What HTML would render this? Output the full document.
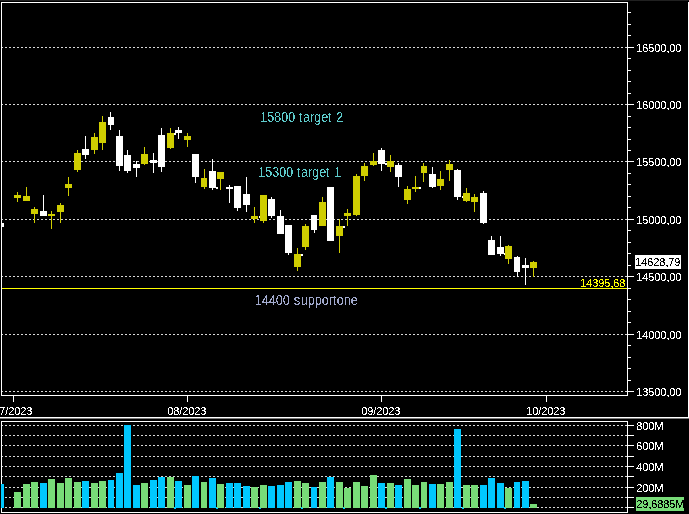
<!DOCTYPE html>
<html><head><meta charset="utf-8"><title>Chart</title>
<style>
html,body{margin:0;padding:0;background:#000;}
body{width:689px;height:514px;overflow:hidden;position:relative;font-family:"Liberation Sans",sans-serif;}
svg{position:absolute;left:0;top:0;display:block;}
text{font-family:"Liberation Sans",sans-serif;}
.ax{font-size:11px;fill:#fff;}
.an{font-size:13px;}
</style></head><body>
<svg width="689" height="514" viewBox="0 0 689 514" shape-rendering="crispEdges">
<defs><pattern id="dot" x="1" y="0" width="4" height="1" patternUnits="userSpaceOnUse"><rect x="0" y="0" width="2" height="1" fill="#d8d8d8"/></pattern></defs>
<rect x="0" y="0" width="689" height="514" fill="#000"/>
<rect x="0" y="0" width="689" height="1" fill="#202020"/>
<rect x="2" y="47" width="625" height="1" fill="url(#dot)"/>
<rect x="2" y="104" width="625" height="1" fill="url(#dot)"/>
<rect x="2" y="161" width="625" height="1" fill="url(#dot)"/>
<rect x="2" y="219" width="625" height="1" fill="url(#dot)"/>
<rect x="2" y="276" width="625" height="1" fill="url(#dot)"/>
<rect x="2" y="334" width="625" height="1" fill="url(#dot)"/>
<rect x="2" y="391" width="625" height="1" fill="url(#dot)"/>
<rect x="2" y="425" width="625" height="1" fill="url(#dot)"/>
<rect x="2" y="435" width="625" height="1" fill="url(#dot)"/>
<rect x="2" y="445" width="625" height="1" fill="url(#dot)"/>
<rect x="2" y="456" width="625" height="1" fill="url(#dot)"/>
<rect x="2" y="466" width="625" height="1" fill="url(#dot)"/>
<rect x="2" y="476" width="625" height="1" fill="url(#dot)"/>
<rect x="2" y="487" width="625" height="1" fill="url(#dot)"/>
<rect x="2" y="497" width="625" height="1" fill="url(#dot)"/>
<rect x="2" y="507" width="625" height="1" fill="url(#dot)"/>
<rect x="1" y="2" width="627" height="1" fill="#ffffff"/>
<rect x="1" y="2" width="1" height="394" fill="#ffffff"/>
<rect x="1" y="395" width="627" height="1" fill="#ffffff"/>
<rect x="627" y="2" width="1" height="394" fill="#ffffff"/>
<rect x="688" y="2" width="1" height="416" fill="#ffffff"/>
<rect x="0" y="417" width="689" height="1" fill="#ffffff"/>
<rect x="0" y="418" width="689" height="1" fill="#7a7a7a"/>
<rect x="1" y="421" width="627" height="1" fill="#ffffff"/>
<rect x="1" y="421" width="1" height="92" fill="#ffffff"/>
<rect x="627" y="421" width="1" height="92" fill="#ffffff"/>
<rect x="1" y="512" width="627" height="1" fill="#ffffff"/>
<rect x="628" y="12" width="3" height="1" fill="#ffffff"/>
<rect x="628" y="24" width="3" height="1" fill="#ffffff"/>
<rect x="628" y="35" width="3" height="1" fill="#ffffff"/>
<rect x="628" y="58" width="3" height="1" fill="#ffffff"/>
<rect x="628" y="70" width="3" height="1" fill="#ffffff"/>
<rect x="628" y="81" width="3" height="1" fill="#ffffff"/>
<rect x="628" y="93" width="3" height="1" fill="#ffffff"/>
<rect x="628" y="116" width="3" height="1" fill="#ffffff"/>
<rect x="628" y="127" width="3" height="1" fill="#ffffff"/>
<rect x="628" y="139" width="3" height="1" fill="#ffffff"/>
<rect x="628" y="150" width="3" height="1" fill="#ffffff"/>
<rect x="628" y="173" width="3" height="1" fill="#ffffff"/>
<rect x="628" y="184" width="3" height="1" fill="#ffffff"/>
<rect x="628" y="196" width="3" height="1" fill="#ffffff"/>
<rect x="628" y="207" width="3" height="1" fill="#ffffff"/>
<rect x="628" y="230" width="3" height="1" fill="#ffffff"/>
<rect x="628" y="242" width="3" height="1" fill="#ffffff"/>
<rect x="628" y="253" width="3" height="1" fill="#ffffff"/>
<rect x="628" y="265" width="3" height="1" fill="#ffffff"/>
<rect x="628" y="288" width="3" height="1" fill="#ffffff"/>
<rect x="628" y="299" width="3" height="1" fill="#ffffff"/>
<rect x="628" y="311" width="3" height="1" fill="#ffffff"/>
<rect x="628" y="322" width="3" height="1" fill="#ffffff"/>
<rect x="628" y="345" width="3" height="1" fill="#ffffff"/>
<rect x="628" y="357" width="3" height="1" fill="#ffffff"/>
<rect x="628" y="368" width="3" height="1" fill="#ffffff"/>
<rect x="628" y="380" width="3" height="1" fill="#ffffff"/>
<rect x="628" y="47" width="6" height="1" fill="#ffffff"/>
<rect x="628" y="104" width="6" height="1" fill="#ffffff"/>
<rect x="628" y="161" width="6" height="1" fill="#ffffff"/>
<rect x="628" y="219" width="6" height="1" fill="#ffffff"/>
<rect x="628" y="276" width="6" height="1" fill="#ffffff"/>
<rect x="628" y="334" width="6" height="1" fill="#ffffff"/>
<rect x="628" y="391" width="6" height="1" fill="#ffffff"/>
<rect x="628" y="425" width="6" height="1" fill="#ffffff"/>
<rect x="628" y="435" width="6" height="1" fill="#ffffff"/>
<rect x="628" y="445" width="6" height="1" fill="#ffffff"/>
<rect x="628" y="456" width="6" height="1" fill="#ffffff"/>
<rect x="628" y="466" width="6" height="1" fill="#ffffff"/>
<rect x="628" y="476" width="6" height="1" fill="#ffffff"/>
<rect x="628" y="487" width="6" height="1" fill="#ffffff"/>
<rect x="628" y="497" width="6" height="1" fill="#ffffff"/>
<rect x="628" y="507" width="6" height="1" fill="#ffffff"/>
<rect x="13" y="396" width="1" height="6" fill="#ffffff"/>
<rect x="187" y="396" width="1" height="6" fill="#ffffff"/>
<rect x="381" y="396" width="1" height="6" fill="#ffffff"/>
<rect x="546" y="396" width="1" height="6" fill="#ffffff"/>
<rect x="2" y="288" width="625" height="1" fill="#ffff00"/>
<rect x="174" y="507" width="2" height="2" fill="#00c8ff"/>
<rect x="174" y="133" width="2" height="2" fill="#ffffff"/>
<rect x="216" y="507" width="2" height="2" fill="#00c8ff"/>
<rect x="216" y="187" width="2" height="2" fill="#ffffff"/>
<rect x="259" y="507" width="2" height="2" fill="#00c8ff"/>
<rect x="259" y="216" width="2" height="2" fill="#ffffff"/>
<rect x="301" y="507" width="2" height="2" fill="#00c8ff"/>
<rect x="301" y="254" width="2" height="2" fill="#ffffff"/>
<rect x="343" y="507" width="2" height="2" fill="#00c8ff"/>
<rect x="343" y="226" width="2" height="2" fill="#ffffff"/>
<rect x="385" y="507" width="2" height="2" fill="#00c8ff"/>
<rect x="385" y="163" width="2" height="2" fill="#ffffff"/>
<rect x="419" y="507" width="2" height="2" fill="#00c8ff"/>
<rect x="419" y="187" width="2" height="2" fill="#ffffff"/>
<rect x="462" y="507" width="2" height="2" fill="#00c8ff"/>
<rect x="462" y="196" width="2" height="2" fill="#ffffff"/>
<rect x="504" y="507" width="2" height="2" fill="#00c8ff"/>
<rect x="504" y="253" width="2" height="2" fill="#ffffff"/>
<rect x="1" y="484" width="3" height="24" fill="#00c8ff"/>
<rect x="14" y="492" width="7" height="16" fill="#78dc78"/>
<rect x="23" y="484" width="7" height="24" fill="#78dc78"/>
<rect x="31" y="482" width="7" height="26" fill="#78dc78"/>
<rect x="40" y="483" width="7" height="25" fill="#00c8ff"/>
<rect x="48" y="479" width="7" height="29" fill="#78dc78"/>
<rect x="57" y="483" width="7" height="25" fill="#78dc78"/>
<rect x="65" y="478" width="7" height="30" fill="#78dc78"/>
<rect x="74" y="482" width="7" height="26" fill="#78dc78"/>
<rect x="82" y="481" width="7" height="27" fill="#00c8ff"/>
<rect x="91" y="483" width="7" height="25" fill="#78dc78"/>
<rect x="99" y="481" width="7" height="27" fill="#78dc78"/>
<rect x="108" y="480" width="6" height="28" fill="#00c8ff"/>
<rect x="116" y="473" width="7" height="35" fill="#00c8ff"/>
<rect x="124" y="425" width="7" height="83" fill="#00c8ff"/>
<rect x="133" y="485" width="7" height="23" fill="#00c8ff"/>
<rect x="141" y="483" width="7" height="25" fill="#78dc78"/>
<rect x="150" y="480" width="7" height="28" fill="#00c8ff"/>
<rect x="158" y="477" width="7" height="31" fill="#00c8ff"/>
<rect x="167" y="477" width="7" height="31" fill="#78dc78"/>
<rect x="175" y="481" width="7" height="27" fill="#00c8ff"/>
<rect x="184" y="485" width="7" height="23" fill="#78dc78"/>
<rect x="192" y="476" width="7" height="32" fill="#00c8ff"/>
<rect x="201" y="482" width="6" height="26" fill="#78dc78"/>
<rect x="209" y="478" width="7" height="30" fill="#00c8ff"/>
<rect x="217" y="484" width="7" height="24" fill="#78dc78"/>
<rect x="226" y="483" width="7" height="25" fill="#00c8ff"/>
<rect x="234" y="483" width="7" height="25" fill="#00c8ff"/>
<rect x="243" y="486" width="7" height="22" fill="#00c8ff"/>
<rect x="251" y="487" width="7" height="21" fill="#78dc78"/>
<rect x="260" y="485" width="7" height="23" fill="#78dc78"/>
<rect x="268" y="486" width="7" height="22" fill="#00c8ff"/>
<rect x="277" y="485" width="7" height="23" fill="#00c8ff"/>
<rect x="285" y="482" width="7" height="26" fill="#00c8ff"/>
<rect x="294" y="481" width="7" height="27" fill="#78dc78"/>
<rect x="302" y="483" width="7" height="25" fill="#78dc78"/>
<rect x="311" y="487" width="6" height="21" fill="#00c8ff"/>
<rect x="319" y="482" width="7" height="26" fill="#78dc78"/>
<rect x="327" y="477" width="7" height="31" fill="#00c8ff"/>
<rect x="336" y="482" width="7" height="26" fill="#78dc78"/>
<rect x="344" y="488" width="7" height="20" fill="#78dc78"/>
<rect x="353" y="482" width="7" height="26" fill="#78dc78"/>
<rect x="361" y="486" width="7" height="22" fill="#78dc78"/>
<rect x="370" y="475" width="7" height="33" fill="#78dc78"/>
<rect x="378" y="483" width="7" height="25" fill="#00c8ff"/>
<rect x="387" y="483" width="7" height="25" fill="#78dc78"/>
<rect x="395" y="485" width="7" height="23" fill="#00c8ff"/>
<rect x="404" y="479" width="7" height="29" fill="#78dc78"/>
<rect x="412" y="485" width="7" height="23" fill="#78dc78"/>
<rect x="421" y="482" width="6" height="26" fill="#78dc78"/>
<rect x="429" y="484" width="7" height="24" fill="#00c8ff"/>
<rect x="437" y="484" width="7" height="24" fill="#78dc78"/>
<rect x="446" y="482" width="7" height="26" fill="#78dc78"/>
<rect x="454" y="429" width="7" height="79" fill="#00c8ff"/>
<rect x="463" y="485" width="7" height="23" fill="#78dc78"/>
<rect x="471" y="485" width="7" height="23" fill="#78dc78"/>
<rect x="480" y="485" width="7" height="23" fill="#00c8ff"/>
<rect x="488" y="478" width="7" height="30" fill="#00c8ff"/>
<rect x="497" y="483" width="7" height="25" fill="#00c8ff"/>
<rect x="505" y="488" width="7" height="20" fill="#78dc78"/>
<rect x="514" y="482" width="6" height="26" fill="#00c8ff"/>
<rect x="522" y="481" width="7" height="27" fill="#00c8ff"/>
<rect x="530" y="504" width="7" height="4" fill="#78dc78"/>
<rect x="2" y="223" width="2" height="4" fill="#ffffff"/>
<rect x="17" y="192" width="1" height="10" fill="#cfcd00"/>
<rect x="14" y="195" width="7" height="3" fill="#cfcd00"/>
<rect x="26" y="187" width="1" height="14" fill="#cfcd00"/>
<rect x="23" y="196" width="7" height="5" fill="#cfcd00"/>
<rect x="34" y="207" width="1" height="16" fill="#cfcd00"/>
<rect x="31" y="209" width="7" height="5" fill="#cfcd00"/>
<rect x="43" y="195" width="1" height="21" fill="#ffffff"/>
<rect x="40" y="211" width="7" height="5" fill="#ffffff"/>
<rect x="51" y="211" width="1" height="18" fill="#cfcd00"/>
<rect x="48" y="214" width="7" height="2" fill="#cfcd00"/>
<rect x="60" y="203" width="1" height="20" fill="#cfcd00"/>
<rect x="57" y="205" width="7" height="7" fill="#cfcd00"/>
<rect x="68" y="177" width="1" height="19" fill="#cfcd00"/>
<rect x="65" y="184" width="7" height="4" fill="#cfcd00"/>
<rect x="77" y="150" width="1" height="22" fill="#cfcd00"/>
<rect x="74" y="153" width="7" height="17" fill="#cfcd00"/>
<rect x="85" y="136" width="1" height="23" fill="#ffffff"/>
<rect x="82" y="149" width="7" height="6" fill="#ffffff"/>
<rect x="94" y="133" width="1" height="21" fill="#cfcd00"/>
<rect x="91" y="137" width="7" height="13" fill="#cfcd00"/>
<rect x="102" y="116" width="1" height="34" fill="#cfcd00"/>
<rect x="99" y="122" width="7" height="21" fill="#cfcd00"/>
<rect x="110" y="112" width="1" height="18" fill="#ffffff"/>
<rect x="108" y="117" width="6" height="8" fill="#ffffff"/>
<rect x="119" y="130" width="1" height="41" fill="#ffffff"/>
<rect x="116" y="136" width="7" height="30" fill="#ffffff"/>
<rect x="127" y="150" width="1" height="23" fill="#ffffff"/>
<rect x="124" y="155" width="7" height="16" fill="#ffffff"/>
<rect x="136" y="161" width="1" height="16" fill="#ffffff"/>
<rect x="133" y="164" width="7" height="4" fill="#ffffff"/>
<rect x="144" y="147" width="1" height="18" fill="#cfcd00"/>
<rect x="141" y="154" width="7" height="10" fill="#cfcd00"/>
<rect x="153" y="153" width="1" height="20" fill="#ffffff"/>
<rect x="150" y="160" width="7" height="3" fill="#ffffff"/>
<rect x="161" y="128" width="1" height="44" fill="#ffffff"/>
<rect x="158" y="135" width="7" height="32" fill="#ffffff"/>
<rect x="170" y="128" width="1" height="21" fill="#cfcd00"/>
<rect x="167" y="133" width="7" height="15" fill="#cfcd00"/>
<rect x="178" y="127" width="1" height="12" fill="#ffffff"/>
<rect x="175" y="130" width="7" height="3" fill="#ffffff"/>
<rect x="187" y="133" width="1" height="14" fill="#cfcd00"/>
<rect x="184" y="136" width="7" height="4" fill="#cfcd00"/>
<rect x="195" y="154" width="1" height="29" fill="#ffffff"/>
<rect x="192" y="154" width="7" height="23" fill="#ffffff"/>
<rect x="204" y="169" width="1" height="20" fill="#cfcd00"/>
<rect x="201" y="178" width="6" height="9" fill="#cfcd00"/>
<rect x="212" y="159" width="1" height="31" fill="#ffffff"/>
<rect x="209" y="171" width="7" height="17" fill="#ffffff"/>
<rect x="220" y="172" width="1" height="18" fill="#cfcd00"/>
<rect x="217" y="172" width="7" height="7" fill="#cfcd00"/>
<rect x="229" y="185" width="1" height="18" fill="#ffffff"/>
<rect x="226" y="187" width="7" height="2" fill="#ffffff"/>
<rect x="237" y="186" width="1" height="25" fill="#ffffff"/>
<rect x="234" y="186" width="7" height="22" fill="#ffffff"/>
<rect x="246" y="177" width="1" height="35" fill="#ffffff"/>
<rect x="243" y="194" width="7" height="11" fill="#ffffff"/>
<rect x="254" y="207" width="1" height="16" fill="#cfcd00"/>
<rect x="251" y="216" width="7" height="3" fill="#cfcd00"/>
<rect x="263" y="195" width="1" height="28" fill="#cfcd00"/>
<rect x="260" y="195" width="7" height="26" fill="#cfcd00"/>
<rect x="271" y="197" width="1" height="21" fill="#ffffff"/>
<rect x="268" y="199" width="7" height="17" fill="#ffffff"/>
<rect x="280" y="210" width="1" height="24" fill="#ffffff"/>
<rect x="277" y="216" width="7" height="18" fill="#ffffff"/>
<rect x="288" y="225" width="1" height="30" fill="#ffffff"/>
<rect x="285" y="225" width="7" height="28" fill="#ffffff"/>
<rect x="297" y="248" width="1" height="23" fill="#cfcd00"/>
<rect x="294" y="254" width="7" height="13" fill="#cfcd00"/>
<rect x="305" y="224" width="1" height="26" fill="#cfcd00"/>
<rect x="302" y="226" width="7" height="21" fill="#cfcd00"/>
<rect x="314" y="215" width="1" height="18" fill="#ffffff"/>
<rect x="311" y="215" width="6" height="15" fill="#ffffff"/>
<rect x="322" y="197" width="1" height="29" fill="#cfcd00"/>
<rect x="319" y="202" width="7" height="24" fill="#cfcd00"/>
<rect x="330" y="187" width="1" height="54" fill="#ffffff"/>
<rect x="327" y="187" width="7" height="54" fill="#ffffff"/>
<rect x="339" y="219" width="1" height="34" fill="#cfcd00"/>
<rect x="336" y="226" width="7" height="10" fill="#cfcd00"/>
<rect x="347" y="209" width="1" height="17" fill="#cfcd00"/>
<rect x="344" y="213" width="7" height="3" fill="#cfcd00"/>
<rect x="356" y="174" width="1" height="42" fill="#cfcd00"/>
<rect x="353" y="176" width="7" height="39" fill="#cfcd00"/>
<rect x="364" y="163" width="1" height="18" fill="#cfcd00"/>
<rect x="361" y="166" width="7" height="10" fill="#cfcd00"/>
<rect x="373" y="153" width="1" height="13" fill="#cfcd00"/>
<rect x="370" y="161" width="7" height="4" fill="#cfcd00"/>
<rect x="381" y="148" width="1" height="23" fill="#ffffff"/>
<rect x="378" y="150" width="7" height="14" fill="#ffffff"/>
<rect x="390" y="155" width="1" height="17" fill="#cfcd00"/>
<rect x="387" y="161" width="7" height="6" fill="#cfcd00"/>
<rect x="398" y="163" width="1" height="24" fill="#ffffff"/>
<rect x="395" y="165" width="7" height="12" fill="#ffffff"/>
<rect x="407" y="186" width="1" height="18" fill="#cfcd00"/>
<rect x="404" y="189" width="7" height="11" fill="#cfcd00"/>
<rect x="415" y="176" width="1" height="16" fill="#cfcd00"/>
<rect x="412" y="187" width="7" height="2" fill="#cfcd00"/>
<rect x="423" y="163" width="1" height="19" fill="#cfcd00"/>
<rect x="421" y="166" width="6" height="7" fill="#cfcd00"/>
<rect x="432" y="167" width="1" height="21" fill="#ffffff"/>
<rect x="429" y="174" width="7" height="13" fill="#ffffff"/>
<rect x="440" y="171" width="1" height="19" fill="#cfcd00"/>
<rect x="437" y="179" width="7" height="7" fill="#cfcd00"/>
<rect x="449" y="160" width="1" height="21" fill="#cfcd00"/>
<rect x="446" y="164" width="7" height="6" fill="#cfcd00"/>
<rect x="457" y="169" width="1" height="31" fill="#ffffff"/>
<rect x="454" y="170" width="7" height="27" fill="#ffffff"/>
<rect x="466" y="188" width="1" height="14" fill="#cfcd00"/>
<rect x="463" y="193" width="7" height="8" fill="#cfcd00"/>
<rect x="474" y="194" width="1" height="18" fill="#cfcd00"/>
<rect x="471" y="197" width="7" height="5" fill="#cfcd00"/>
<rect x="483" y="191" width="1" height="33" fill="#ffffff"/>
<rect x="480" y="193" width="7" height="30" fill="#ffffff"/>
<rect x="491" y="236" width="1" height="19" fill="#ffffff"/>
<rect x="488" y="240" width="7" height="15" fill="#ffffff"/>
<rect x="500" y="236" width="1" height="20" fill="#ffffff"/>
<rect x="497" y="247" width="7" height="7" fill="#ffffff"/>
<rect x="508" y="245" width="1" height="19" fill="#cfcd00"/>
<rect x="505" y="246" width="7" height="13" fill="#cfcd00"/>
<rect x="517" y="256" width="1" height="21" fill="#ffffff"/>
<rect x="514" y="257" width="6" height="15" fill="#ffffff"/>
<rect x="525" y="258" width="1" height="27" fill="#ffffff"/>
<rect x="522" y="265" width="7" height="3" fill="#ffffff"/>
<rect x="533" y="261" width="1" height="16" fill="#cfcd00"/>
<rect x="530" y="262" width="7" height="6" fill="#cfcd00"/>
<rect x="635" y="255" width="46" height="14" fill="#ffffff"/>
<rect x="636" y="497" width="48" height="14" fill="#78dc78"/>
</svg>
<svg width="689" height="514" viewBox="0 0 689 514">
<defs><filter id="th" x="0" y="0" width="100%" height="100%" filterUnits="userSpaceOnUse" color-interpolation-filters="sRGB"><feComponentTransfer><feFuncA type="discrete" tableValues="0 1"/></feComponentTransfer></filter><filter id="thk" x="0" y="0" width="100%" height="100%" filterUnits="userSpaceOnUse" color-interpolation-filters="sRGB"><feComponentTransfer><feFuncA type="discrete" tableValues="0 1"/></feComponentTransfer><feColorMatrix type="matrix" values="0 0 0 0 0  0 0 0 0 0  0 0 0 0 0  0 0 0 1 0"/></filter></defs>
<g filter="url(#th)">
<text x="636.25 642.25 648.25 654.25 660.25 666.5 669.25 675.25" y="52" class="ax">16500,00</text>
<text x="636.25 642.25 648.25 654.25 660.25 666.5 669.25 675.25" y="109" class="ax">16000,00</text>
<text x="636.25 642.25 648.25 654.25 660.25 666.5 669.25 675.25" y="166" class="ax">15500,00</text>
<text x="636.25 642.25 648.25 654.25 660.25 666.5 669.25 675.25" y="224" class="ax">15000,00</text>
<text x="636.25 642.25 648.25 654.25 660.25 666.5 669.25 675.25" y="281" class="ax">14500,00</text>
<text x="636.25 642.25 648.25 654.25 660.25 666.5 669.25 675.25" y="339" class="ax">14000,00</text>
<text x="636.25 642.25 648.25 654.25 660.25 666.5 669.25 675.25" y="396" class="ax">13500,00</text>
<text x="636.25 642.25 648.25 654.25" y="430" class="ax">800M</text>
<text x="636.25 642.25 648.25 654.25" y="450" class="ax">600M</text>
<text x="636.25 642.25 648.25 654.25" y="471" class="ax">400M</text>
<text x="636.25 642.25 648.25 654.25" y="492" class="ax">200M</text>
<text x="580.25 586.25 592.25 598.25 604.25 610.5 613.25 619.25" y="287" class="ax" style="fill:#ffff00">14395,68</text>
<text x="-6.75 -0.75 5.25 8.25 14.25 20.25 26.25" y="415" class="ax">07/2023</text>
<text x="167.25 173.25 179.25 182.25 188.25 194.25 200.25" y="415" class="ax">08/2023</text>
<text x="361.25 367.25 373.25 376.25 382.25 388.25 394.25" y="415" class="ax">09/2023</text>
<text x="526.25 532.25 538.25 541.25 547.25 553.25 559.25" y="415" class="ax">10/2023</text>
<text transform="translate(0 122) scale(1 1.08)" x="260 267 274 281 288 295 299 303 310 314 321 328 332 336" y="0" class="an" style="fill:#5ecccc">15800 target 2</text>
<text transform="translate(0 177) scale(1 1.08)" x="258 265 272 279 286 293 297 301 308 312 319 326 330 334" y="0" class="an" style="fill:#5ecccc">15300 target 1</text>
<text transform="translate(0 305) scale(1 1.08)" x="254.75 261.75 268.75 275.75 282.75 289.75 293.75 300.75 307.75 314.75 321.75 328.75 332.75 336.75 343.75 350.75" y="0" class="an" style="fill:#a2aace">14400 supportone</text>
</g>
<g filter="url(#thk)">
<text x="635.25 641.25 647.25 653.25 659.25 665.5 668.25 674.25" y="266" class="ax">14628,79</text>
<text x="636.25 642.25 648.5 651.25 657.25 663.25 669.25 675.25" y="508" class="ax">29,6885M</text>
</g></svg>
</body></html>
